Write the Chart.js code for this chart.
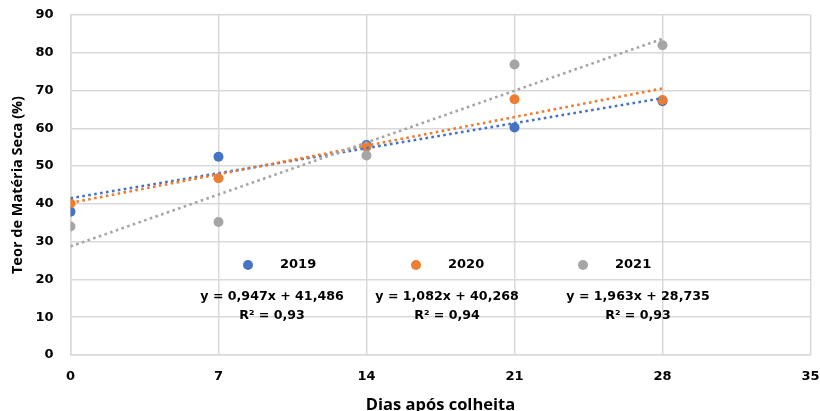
<!DOCTYPE html>
<html>
<head>
<meta charset="utf-8">
<script src="https://cdn.jsdelivr.net/npm/chart.js@4.4.1/dist/chart.umd.min.js"></script>
<style>
  html, body { margin: 0; padding: 0; background: #fff; }
  #wrap { width: 820px; height: 411px; }
</style>
</head>
<body>
<div id="wrap"><canvas id="c" width="820" height="411"></canvas></div>
<script>
// Teor de matéria seca ao longo dos dias após colheita, por ano
const days = [0, 7, 14, 21, 28];
const years = ['2019', '2020', '2021'];
const ms2019 = [37.9, 52.5, 55.6, 60.2, 67.2];
const ms2020 = [40.1, 46.8, 55.1, 67.7, 67.5];
const ms2021 = [34.0, 35.2, 52.8, 76.9, 82.0];

// Linear trend lines: y = slope * x + intercept
const slopes = [0.947, 1.082, 1.963];
const intercepts = [41.486, 40.268, 28.735];
const rSquared = [0.93, 0.94, 0.93];

const xTicks = [0, 7, 14, 21, 28, 35];
const yTicks = [0, 10, 20, 30, 40, 50, 60, 70, 80, 90];

const colors = ['#4472C4', '#ED7D31', '#A5A5A5'];
const seriesValues = [ms2019, ms2020, ms2021];

const fmt = (v, d) => v.toFixed(d).replace('.', ',');

const pointSets = seriesValues.map((vals, i) => ({
  label: years[i],
  data: days.map((d, k) => ({ x: d, y: vals[k] })),
  showLine: false,
  pointRadius: 5,
  pointHoverRadius: 5,
  pointBackgroundColor: colors[i],
  pointBorderColor: colors[i],
  pointBorderWidth: 0,
  order: 5 - i
}));

const trendSets = slopes.map((m, i) => {
  const x0 = days[0], x1 = days[days.length - 1];
  return {
    label: 'Linear (' + years[i] + ')',
    data: [{ x: x0, y: m * x0 + intercepts[i] }, { x: x1, y: m * x1 + intercepts[i] }],
    showLine: true,
    borderColor: colors[i],
    borderWidth: 2.6,
    borderDash: [2.6, 3.4],
    pointRadius: 0,
    pointHoverRadius: 0,
    fill: false,
    order: 2 - i
  };
});

// In-plot legend and trend-line equations
const annotations = {
  id: 'annotations',
  afterDatasetsDraw(chart) {
    const ctx = chart.ctx;
    const legendY = 265;
    const markerX = [248, 416, 583];
    const textX = [280, 448, 615];
    const eqX = [272, 447, 638];
    ctx.save();
    ctx.font = 'bold 13px "DejaVu Sans"';
    ctx.fillStyle = '#000';
    ctx.textBaseline = 'middle';
    years.forEach((y, i) => {
      ctx.beginPath();
      ctx.fillStyle = colors[i];
      ctx.arc(markerX[i], legendY, 5, 0, Math.PI * 2);
      ctx.fill();
      ctx.fillStyle = '#000';
      ctx.textAlign = 'left';
      ctx.fillText(y, textX[i], legendY);
    });
    ctx.font = 'bold 12.6px "DejaVu Sans"';
    ctx.textAlign = 'center';
    slopes.forEach((m, i) => {
      ctx.fillText('y = ' + fmt(m, 3) + 'x + ' + fmt(intercepts[i], 3), eqX[i], 297);
      ctx.fillText('R² = ' + fmt(rSquared[i], 2), eqX[i], 316);
    });
    ctx.restore();
  }
};

const gridColor = '#d9d9d9';

new Chart(document.getElementById('c'), {
  type: 'scatter',
  data: { datasets: [...trendSets, ...pointSets] },
  options: {
    responsive: false,
    animation: false,
    events: [],
    layout: { padding: { top: 15, right: 9.5, left: 0, bottom: 0 } },
    plugins: { legend: { display: false }, tooltip: { enabled: false } },
    scales: {
      x: {
        type: 'linear',
        min: 0, max: 35,
        afterBuildTicks: s => { s.ticks = xTicks.map(v => ({ value: v })); },
        afterFit: s => { s.height = 56; s.paddingLeft = 0; s.paddingRight = 0; },
        grid: { color: gridColor, lineWidth: 1.5, drawTicks: false },
        border: { color: gridColor, width: 1.5 },
        ticks: { color: '#000', padding: 14, font: { family: 'DejaVu Sans', size: 13, weight: 'bold' } },
        title: {
          display: true, text: 'Dias após colheita', color: '#000',
          font: { family: 'Open Sans', size: 16.5, weight: 'bold' },
          padding: { top: 0, bottom: -4 }
        }
      },
      y: {
        type: 'linear',
        min: 0, max: 90,
        afterBuildTicks: s => { s.ticks = yTicks.map(v => ({ value: v })); },
        afterFit: s => { s.width = 70.5; s.paddingTop = 0; s.paddingBottom = 0; },
        grid: { color: gridColor, lineWidth: 1.5, drawTicks: false },
        border: { color: gridColor, width: 1.5 },
        ticks: { color: '#000', padding: 17, font: { family: 'DejaVu Sans', size: 13, weight: 'bold' } },
        title: {
          display: true, text: 'Teor de Matéria Seca (%)', color: '#000',
          font: { family: 'Open Sans', size: 14.5, weight: 'bold' },
          padding: { top: 9, bottom: 0 }
        }
      }
    }
  },
  plugins: [annotations]
});
</script>
</body>
</html>
